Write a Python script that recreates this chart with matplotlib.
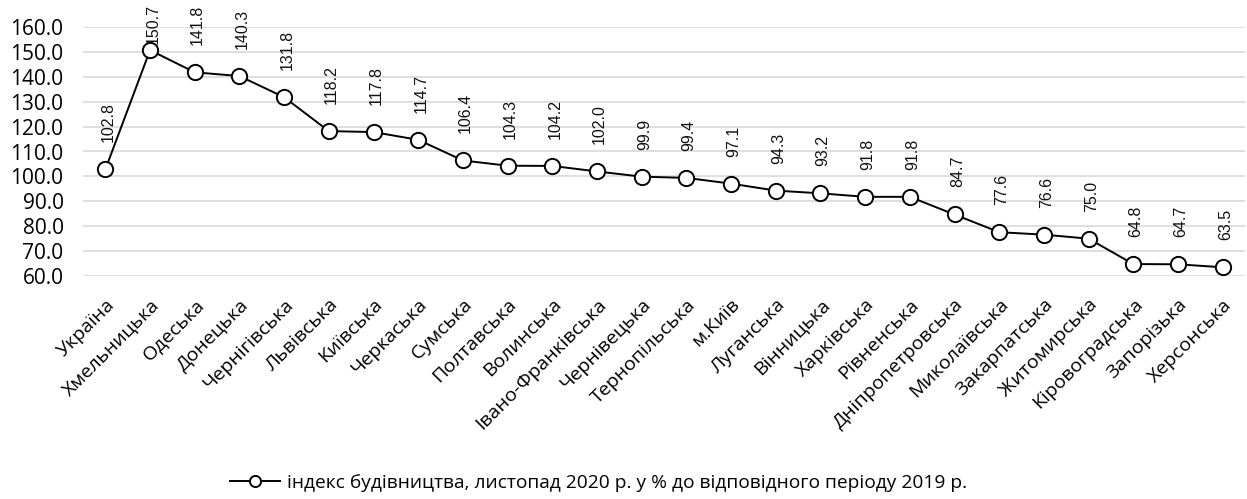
import matplotlib.pyplot as plt
from matplotlib.lines import Line2D

plt.rcParams["font.family"] = ["Open Sans", "DejaVu Sans"]

regions = [
    "Україна", "Хмельницька", "Одеська", "Донецька", "Чернігівська",
    "Львівська", "Київська", "Черкаська", "Сумська", "Полтавська",
    "Волинська", "Івано-Франківська", "Чернівецька", "Тернопільська",
    "м.Київ", "Луганська", "Вінницька", "Харківська", "Рівненська",
    "Дніпропетровська", "Миколаївська", "Закарпатська", "Житомирська",
    "Кіровоградська", "Запорізька", "Херсонська",
]
index_values = [
    102.8, 150.7, 141.8, 140.3, 131.8, 118.2, 117.8, 114.7, 106.4, 104.3,
    104.2, 102.0, 99.9, 99.4, 97.1, 94.3, 93.2, 91.8, 91.8, 84.7,
    77.6, 76.6, 75.0, 64.8, 64.7, 63.5,
]
y_ticks = [60, 70, 80, 90, 100, 110, 120, 130, 140, 150, 160]
series_label = "індекс будівництва, листопад 2020 р. у % до відповідного періоду 2019 р."

fig = plt.figure(figsize=(12.47, 4.99), dpi=100)
ax = fig.add_axes([83 / 1247, 1 - 276 / 499, (1245 - 83) / 1247, (276 - 27) / 499])

x = list(range(len(regions)))
ax.plot(x, index_values, color="black", linewidth=1.4, marker="o",
        markersize=11, markerfacecolor="white", markeredgecolor="black",
        markeredgewidth=1.4, zorder=3, clip_on=False)

# data labels, rotated, above each point
labels = []
for xi, v in zip(x, index_values):
    t = ax.annotate(f"{v:.1f}", (xi, v), xytext=(2, 19.5),
                    textcoords="offset points", rotation=90, ha="center",
                    va="bottom", fontsize=11.5,
                    family=["Liberation Sans", "DejaVu Sans"], color="#111111",
                    annotation_clip=False, zorder=2)
    labels.append(t)

ax.set_xlim(-0.5, len(regions) - 0.5)
ax.set_ylim(60, 160)
ax.set_yticks(y_ticks)
ax.set_yticklabels([f"{t:.1f}" for t in y_ticks], fontsize=15)
ax.yaxis.grid(True, color="#d9d9d9", linewidth=1.2)
ax.set_axisbelow(True)
ax.set_xticks(x)
ax.set_xticklabels(regions, rotation=45, ha="right", rotation_mode="anchor",
                   fontsize=14)
ax.tick_params(axis="y", length=0, pad=14)
ax.tick_params(axis="x", length=0, pad=14)
for s in ax.spines.values():
    s.set_visible(False)

handle = Line2D([], [], color="black", linewidth=1.4, marker="o", markersize=8,
                markerfacecolor="white", markeredgecolor="black",
                markeredgewidth=1.4)
fig.legend([handle], [series_label], loc="center",
           bbox_to_anchor=(0.48, 0.032), frameon=False, fontsize=13.8,
           handlelength=2.6, handletextpad=0.4)

# pull labels that run off the top back inside the figure
fig.canvas.draw()
renderer = fig.canvas.get_renderer()
top_limit = fig.bbox.height - 4
for t in labels:
    bb = t.get_window_extent(renderer)
    if bb.y1 > top_limit:
        dx, dy = t.xyann
        t.xyann = (dx, dy - (bb.y1 - top_limit) * 72 / fig.dpi)

fig.savefig("out.png", dpi=100)
